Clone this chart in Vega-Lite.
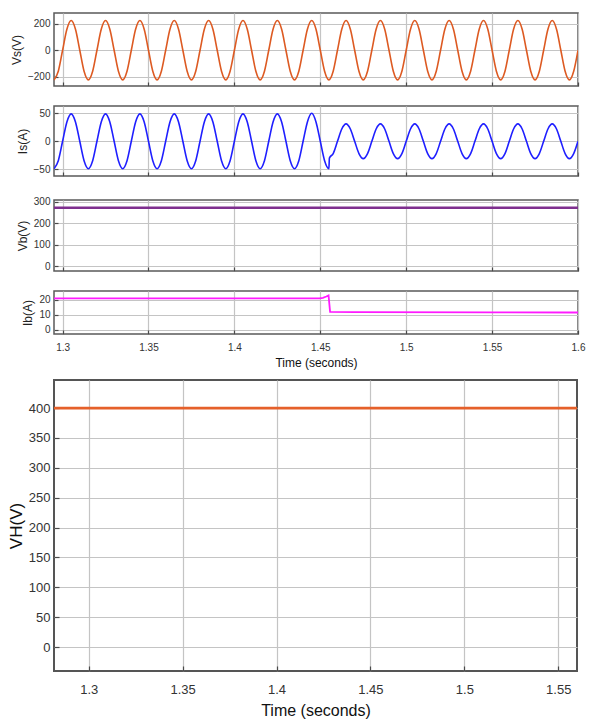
{
  "$schema": "https://vega.github.io/schema/vega-lite/v6.json",
  "background": "white",
  "padding": {"left": 6, "top": 12, "right": 10, "bottom": 2},
  "config": {
    "font": "Liberation Sans",
    "view": {"stroke": "#5a5a5a", "strokeWidth": 1.5},
    "axis": {
      "domain": false, "grid": true, "gridColor": "#c4c4c4", "gridWidth": 1.2,
      "ticks": true, "tickColor": "#4a4a4a", "tickSize": -4, "tickWidth": 1.2,
      "labelColor": "#333333", "labelFontSize": 10, "labelPadding": 8, "labelFont": "Liberation Sans",
      "titleColor": "#222222", "titleFontSize": 12, "titleFontWeight": "normal", "titleFont": "Liberation Sans",
      "labelFlush": false, "labelOverlap": false
    }
  },
  "datasets": {
    "vs": [
      {"t":1.295,"v":-224},{"t":1.2975,"v":-158.4},{"t":1.3,"v":0},{"t":1.3025,"v":158.4},{"t":1.305,"v":224},{"t":1.3075,"v":158.4},{"t":1.31,"v":0},{"t":1.3125,"v":-158.4},
      {"t":1.315,"v":-224},{"t":1.3175,"v":-158.4},{"t":1.32,"v":0},{"t":1.3225,"v":158.4},{"t":1.325,"v":224},{"t":1.3275,"v":158.4},{"t":1.33,"v":0},{"t":1.3325,"v":-158.4},
      {"t":1.335,"v":-224},{"t":1.3375,"v":-158.4},{"t":1.34,"v":0},{"t":1.3425,"v":158.4},{"t":1.345,"v":224},{"t":1.3475,"v":158.4},{"t":1.35,"v":0},{"t":1.3525,"v":-158.4},
      {"t":1.355,"v":-224},{"t":1.3575,"v":-158.4},{"t":1.36,"v":0},{"t":1.3625,"v":158.4},{"t":1.365,"v":224},{"t":1.3675,"v":158.4},{"t":1.37,"v":0},{"t":1.3725,"v":-158.4},
      {"t":1.375,"v":-224},{"t":1.3775,"v":-158.4},{"t":1.38,"v":0},{"t":1.3825,"v":158.4},{"t":1.385,"v":224},{"t":1.3875,"v":158.4},{"t":1.39,"v":0},{"t":1.3925,"v":-158.4},
      {"t":1.395,"v":-224},{"t":1.3975,"v":-158.4},{"t":1.4,"v":0},{"t":1.4025,"v":158.4},{"t":1.405,"v":224},{"t":1.4075,"v":158.4},{"t":1.41,"v":0},{"t":1.4125,"v":-158.4},
      {"t":1.415,"v":-224},{"t":1.4175,"v":-158.4},{"t":1.42,"v":0},{"t":1.4225,"v":158.4},{"t":1.425,"v":224},{"t":1.4275,"v":158.4},{"t":1.43,"v":0},{"t":1.4325,"v":-158.4},
      {"t":1.435,"v":-224},{"t":1.4375,"v":-158.4},{"t":1.44,"v":0},{"t":1.4425,"v":158.4},{"t":1.445,"v":224},{"t":1.4475,"v":158.4},{"t":1.45,"v":0},{"t":1.4525,"v":-158.4},
      {"t":1.455,"v":-224},{"t":1.4575,"v":-158.4},{"t":1.46,"v":0},{"t":1.4625,"v":158.4},{"t":1.465,"v":224},{"t":1.4675,"v":158.4},{"t":1.47,"v":0},{"t":1.4725,"v":-158.4},
      {"t":1.475,"v":-224},{"t":1.4775,"v":-158.4},{"t":1.48,"v":0},{"t":1.4825,"v":158.4},{"t":1.485,"v":224},{"t":1.4875,"v":158.4},{"t":1.49,"v":0},{"t":1.4925,"v":-158.4},
      {"t":1.495,"v":-224},{"t":1.4975,"v":-158.4},{"t":1.5,"v":0},{"t":1.5025,"v":158.4},{"t":1.505,"v":224},{"t":1.5075,"v":158.4},{"t":1.51,"v":0},{"t":1.5125,"v":-158.4},
      {"t":1.515,"v":-224},{"t":1.5175,"v":-158.4},{"t":1.52,"v":0},{"t":1.5225,"v":158.4},{"t":1.525,"v":224},{"t":1.5275,"v":158.4},{"t":1.53,"v":0},{"t":1.5325,"v":-158.4},
      {"t":1.535,"v":-224},{"t":1.5375,"v":-158.4},{"t":1.54,"v":0},{"t":1.5425,"v":158.4},{"t":1.545,"v":224},{"t":1.5475,"v":158.4},{"t":1.55,"v":0},{"t":1.5525,"v":-158.4},
      {"t":1.555,"v":-224},{"t":1.5575,"v":-158.4},{"t":1.56,"v":0},{"t":1.5625,"v":158.4},{"t":1.565,"v":224},{"t":1.5675,"v":158.4},{"t":1.57,"v":0},{"t":1.5725,"v":-158.4},
      {"t":1.575,"v":-224},{"t":1.5775,"v":-158.4},{"t":1.58,"v":0},{"t":1.5825,"v":158.4},{"t":1.585,"v":224},{"t":1.5875,"v":158.4},{"t":1.59,"v":0},{"t":1.5925,"v":-158.4},
      {"t":1.595,"v":-224},{"t":1.5975,"v":-158.4},{"t":1.6,"v":0}
    ],
    "is": [
      {"t":1.295,"v":-49},{"t":1.2975,"v":-34.6},{"t":1.3,"v":0},{"t":1.3025,"v":34.6},{"t":1.305,"v":49},{"t":1.3075,"v":34.6},{"t":1.31,"v":0},{"t":1.3125,"v":-34.6},
      {"t":1.315,"v":-49},{"t":1.3175,"v":-34.6},{"t":1.32,"v":0},{"t":1.3225,"v":34.6},{"t":1.325,"v":49},{"t":1.3275,"v":34.6},{"t":1.33,"v":0},{"t":1.3325,"v":-34.6},
      {"t":1.335,"v":-49},{"t":1.3375,"v":-34.6},{"t":1.34,"v":0},{"t":1.3425,"v":34.6},{"t":1.345,"v":49},{"t":1.3475,"v":34.6},{"t":1.35,"v":0},{"t":1.3525,"v":-34.6},
      {"t":1.355,"v":-49},{"t":1.3575,"v":-34.6},{"t":1.36,"v":0},{"t":1.3625,"v":34.6},{"t":1.365,"v":49},{"t":1.3675,"v":34.6},{"t":1.37,"v":0},{"t":1.3725,"v":-34.6},
      {"t":1.375,"v":-49},{"t":1.3775,"v":-34.6},{"t":1.38,"v":0},{"t":1.3825,"v":34.6},{"t":1.385,"v":49},{"t":1.3875,"v":34.6},{"t":1.39,"v":0},{"t":1.3925,"v":-34.6},
      {"t":1.395,"v":-49},{"t":1.3975,"v":-34.6},{"t":1.4,"v":0},{"t":1.4025,"v":34.6},{"t":1.405,"v":49},{"t":1.4075,"v":34.6},{"t":1.41,"v":0},{"t":1.4125,"v":-34.6},
      {"t":1.415,"v":-49},{"t":1.4175,"v":-34.6},{"t":1.42,"v":0},{"t":1.4225,"v":34.6},{"t":1.425,"v":49},{"t":1.4275,"v":34.6},{"t":1.43,"v":0},{"t":1.4325,"v":-34.6},
      {"t":1.435,"v":-49},{"t":1.4375,"v":-34.6},{"t":1.44,"v":0},{"t":1.4425,"v":34.6},{"t":1.445,"v":50},{"t":1.4475,"v":34.6},{"t":1.45,"v":0},{"t":1.4525,"v":-34.6},
      {"t":1.455,"v":-49},{"t":1.4553,"v":-30},{"t":1.4575,"v":-21.9},{"t":1.46,"v":0},{"t":1.4625,"v":21.9},{"t":1.465,"v":31},{"t":1.4675,"v":21.9},{"t":1.47,"v":0},{"t":1.4725,"v":-21.9},
      {"t":1.475,"v":-31},{"t":1.4775,"v":-21.9},{"t":1.48,"v":0},{"t":1.4825,"v":21.9},{"t":1.485,"v":31},{"t":1.4875,"v":21.9},{"t":1.49,"v":0},{"t":1.4925,"v":-21.9},
      {"t":1.495,"v":-31},{"t":1.4975,"v":-21.9},{"t":1.5,"v":0},{"t":1.5025,"v":21.9},{"t":1.505,"v":31},{"t":1.5075,"v":21.9},{"t":1.51,"v":0},{"t":1.5125,"v":-21.9},
      {"t":1.515,"v":-31},{"t":1.5175,"v":-21.9},{"t":1.52,"v":0},{"t":1.5225,"v":21.9},{"t":1.525,"v":31},{"t":1.5275,"v":21.9},{"t":1.53,"v":0},{"t":1.5325,"v":-21.9},
      {"t":1.535,"v":-31},{"t":1.5375,"v":-21.9},{"t":1.54,"v":0},{"t":1.5425,"v":21.9},{"t":1.545,"v":31},{"t":1.5475,"v":21.9},{"t":1.55,"v":0},{"t":1.5525,"v":-21.9},
      {"t":1.555,"v":-31},{"t":1.5575,"v":-21.9},{"t":1.56,"v":0},{"t":1.5625,"v":21.9},{"t":1.565,"v":31},{"t":1.5675,"v":21.9},{"t":1.57,"v":0},{"t":1.5725,"v":-21.9},
      {"t":1.575,"v":-31},{"t":1.5775,"v":-21.9},{"t":1.58,"v":0},{"t":1.5825,"v":21.9},{"t":1.585,"v":31},{"t":1.5875,"v":21.9},{"t":1.59,"v":0},{"t":1.5925,"v":-21.9},
      {"t":1.595,"v":-31},{"t":1.5975,"v":-21.9},{"t":1.6,"v":0}
    ],
    "vb": [{"t":1.295,"v":272},{"t":1.6,"v":272}],
    "ib": [
      {"t":1.295,"v":21},{"t":1.4495,"v":21},{"t":1.4515,"v":21.4},{"t":1.4535,"v":22.3},{"t":1.4548,"v":23},
      {"t":1.4557,"v":11.9},{"t":1.47,"v":11.8},{"t":1.55,"v":11.6},{"t":1.6,"v":11.5}
    ],
    "vh": [{"t":1.2815,"v":400},{"t":1.56,"v":400}]
  },
  "spacing": 10,
  "vconcat": [
    {
      "spacing": 17,
      "vconcat": [
        {
          "width": 524, "height": 73,
          "data": {"name": "vs"},
          "mark": {"type": "line", "color": "#dd5a22", "strokeWidth": 1.6, "interpolate": "monotone", "clip": true},
          "encoding": {
            "x": {"field": "t", "type": "quantitative", "scale": {"domain": [1.295, 1.6], "nice": false, "zero": false},
                  "axis": {"values": [1.3, 1.35, 1.4, 1.45, 1.5, 1.55, 1.6], "labels": false, "title": null}},
            "y": {"field": "v", "type": "quantitative", "scale": {"domain": [-270, 281], "nice": false},
                  "axis": {"values": [-200, 0, 200], "title": "Vs(V)"}}
          }
        },
        {
          "width": 524, "height": 70,
          "data": {"name": "is"},
          "mark": {"type": "line", "color": "#1f1fff", "strokeWidth": 1.6, "interpolate": "monotone", "clip": true},
          "encoding": {
            "x": {"field": "t", "type": "quantitative", "scale": {"domain": [1.295, 1.6], "nice": false, "zero": false},
                  "axis": {"values": [1.3, 1.35, 1.4, 1.45, 1.5, 1.55, 1.6], "labels": false, "title": null}},
            "y": {"field": "v", "type": "quantitative", "scale": {"domain": [-62, 63], "nice": false},
                  "axis": {"values": [-50, 0, 50], "title": "Is(A)"}}
          }
        },
        {
          "width": 524, "height": 71,
          "data": {"name": "vb"},
          "mark": {"type": "line", "color": "#7e2f8e", "strokeWidth": 2.4, "clip": true},
          "encoding": {
            "x": {"field": "t", "type": "quantitative", "scale": {"domain": [1.295, 1.6], "nice": false, "zero": false},
                  "axis": {"values": [1.3, 1.35, 1.4, 1.45, 1.5, 1.55, 1.6], "labels": false, "title": null}},
            "y": {"field": "v", "type": "quantitative", "scale": {"domain": [-23, 308], "nice": false},
                  "axis": {"values": [0, 100, 200, 300], "title": "Vb(V)"}}
          }
        },
        {
          "width": 524, "height": 43,
          "data": {"name": "ib"},
          "mark": {"type": "line", "color": "#ff1aff", "strokeWidth": 1.8, "clip": true},
          "encoding": {
            "x": {"field": "t", "type": "quantitative", "scale": {"domain": [1.295, 1.6], "nice": false, "zero": false},
                  "axis": {"values": [1.3, 1.35, 1.4, 1.45, 1.5, 1.55, 1.6], "format": "~g", "title": "Time (seconds)", "labelPadding": 12, "titlePadding": 5, "titleColor": "#111111"}},
            "y": {"field": "v", "type": "quantitative", "scale": {"domain": [-3, 26], "nice": false},
                  "axis": {"values": [0, 10, 20], "title": "Ib(A)"}}
          }
        }
      ]
    },
    {
      "width": 523, "height": 291,
      "view": {"stroke": "#555555", "strokeWidth": 2},
      "data": {"name": "vh"},
      "mark": {"type": "line", "color": "#e5602a", "strokeWidth": 2.6, "clip": true},
      "encoding": {
        "x": {"field": "t", "type": "quantitative", "scale": {"domain": [1.2815, 1.56], "nice": false, "zero": false},
              "axis": {"values": [1.3, 1.35, 1.4, 1.45, 1.5, 1.55], "format": "~g", "title": "Time (seconds)",
                       "labelFontSize": 13, "labelFont": "'Liberation Sans Narrow', 'Liberation Sans'", "tickSize": -5,
                       "labelPadding": 17, "titleFontSize": 16, "titlePadding": 6, "titleColor": "#111111",
                       "titleFont": "'Liberation Sans Narrow', 'Liberation Sans'"}},
        "y": {"field": "v", "type": "quantitative", "scale": {"domain": [-40, 447], "nice": false},
              "axis": {"values": [0, 50, 100, 150, 200, 250, 300, 350, 400], "title": "VH(V)",
                       "labelFontSize": 13, "labelFont": "'Liberation Sans Narrow', 'Liberation Sans'", "tickSize": -5,
                       "labelPadding": 9, "titleFontSize": 17, "titlePadding": 3, "titleColor": "#111111"}}
      }
    }
  ]
}
